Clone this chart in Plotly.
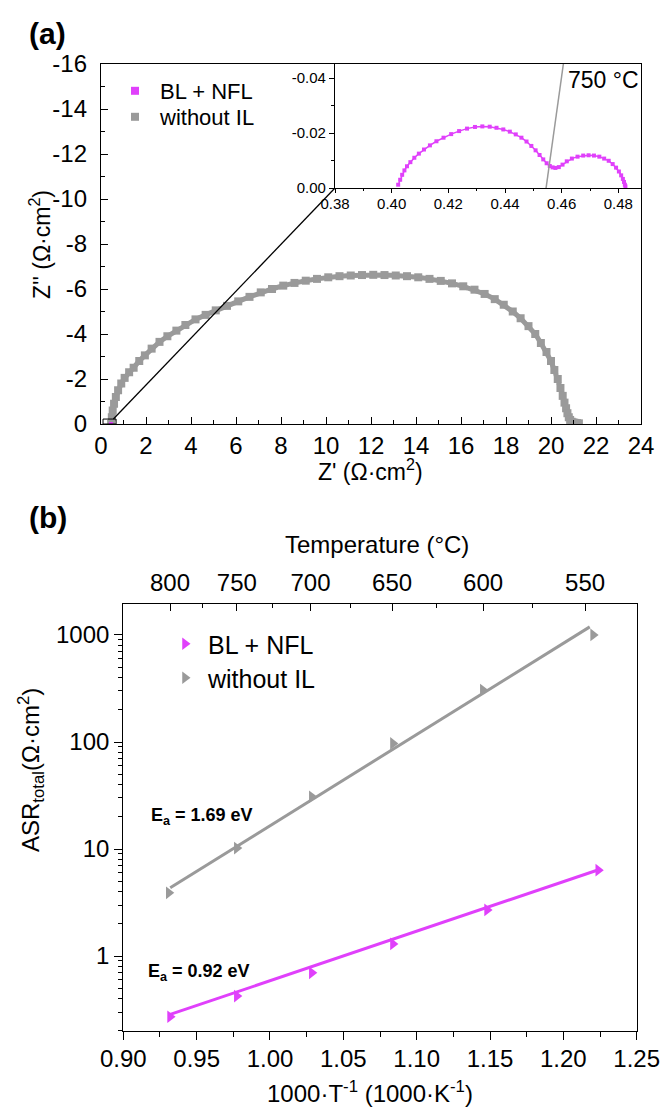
import plotly.graph_objects as go

W, H = 664, 1115
FONT = "Liberation Sans, Arial, sans-serif"
GRAY = "#9a9a9a"
MAG = "#e040fb"

# ---------------- Panel (a) data : Nyquist, 750 C ----------------
without_il_zre = [0.45, 0.48, 0.52, 0.58, 0.66, 0.76, 0.9, 1.05, 1.25, 1.45, 1.7, 1.95,
                  2.25, 2.6, 2.95, 3.35, 3.75, 4.2, 4.65, 5.1, 5.6, 6.1, 6.6, 7.1, 7.6,
                  8.1, 8.6, 9.1, 9.6, 10.1, 10.6, 11.1, 11.6, 12.1, 12.6, 13.1, 13.6,
                  14.1, 14.6, 15.1, 15.6, 16.1, 16.6, 17.05, 17.5, 17.9, 18.3, 18.65,
                  19.0, 19.3, 19.55, 19.8, 20.0, 20.15, 20.3, 20.42, 20.52, 20.6, 20.67,
                  20.73, 20.79, 20.85, 20.92, 21.0, 21.08, 21.16, 21.24]
without_il_zim = [0.0, -0.3, -0.6, -0.9, -1.2, -1.5, -1.8, -2.05, -2.3, -2.5, -2.8, -3.05,
                  -3.35, -3.65, -3.9, -4.15, -4.4, -4.65, -4.85, -5.05, -5.25, -5.45,
                  -5.65, -5.85, -6.0, -6.15, -6.27, -6.37, -6.45, -6.52, -6.57, -6.6,
                  -6.62, -6.63, -6.62, -6.6, -6.57, -6.52, -6.45, -6.36, -6.25, -6.12,
                  -5.97, -5.78, -5.55, -5.3, -5.0, -4.7, -4.35, -4.0, -3.6, -3.2, -2.8,
                  -2.4, -2.0, -1.6, -1.25, -0.95, -0.7, -0.48, -0.3, -0.18, -0.1, -0.07,
                  -0.05, -0.04, -0.03]

bl_nfl_zre = [0.4023, 0.4030, 0.4037, 0.4045, 0.4054, 0.4066, 0.4080, 0.4096, 0.4114,
              0.4135, 0.4158, 0.4183, 0.4210, 0.4238, 0.4266, 0.4294, 0.4320, 0.4346,
              0.4370, 0.4394, 0.4417, 0.4438, 0.4458, 0.4476, 0.4493, 0.4508, 0.4522,
              0.4535, 0.4547, 0.4558, 0.4568, 0.4578, 0.4590, 0.4603, 0.4618, 0.4636,
              0.4656, 0.4676, 0.4695, 0.4714, 0.4733, 0.4750, 0.4766, 0.4780, 0.4792,
              0.4802, 0.4810, 0.4816, 0.4820, 0.4823, 0.4825]
bl_nfl_zim = [-0.0012, -0.0030, -0.0048, -0.0064, -0.0079, -0.0094, -0.0110, -0.0125,
              -0.0140, -0.0155, -0.0170, -0.0183, -0.0196, -0.0207, -0.0216, -0.0222,
              -0.0224, -0.0223, -0.0219, -0.0213, -0.0205, -0.0195, -0.0183, -0.0169,
              -0.0153, -0.0137, -0.0120, -0.0104, -0.0090, -0.0080, -0.0075, -0.0073,
              -0.0076, -0.0085, -0.0097, -0.0107, -0.0114, -0.0118, -0.0119, -0.0118,
              -0.0114, -0.0107, -0.0099, -0.0087, -0.0074, -0.0060, -0.0046, -0.0033,
              -0.0022, -0.0012, -0.0006]

a_xticks = [0, 2, 4, 6, 8, 10, 12, 14, 16, 18, 20, 22, 24]
a_yticks = [0, -2, -4, -6, -8, -10, -12, -14, -16]
inset_yticks = [0.0, -0.02, -0.04]
inset_ylabels = ["0.00", "-0.02", "-0.04"]

# ---------------- Panel (b) data : Arrhenius ----------------
temps_c = [800, 750, 700, 650, 600, 550]
minor_temps_c = [775, 725, 675, 625, 575]
inv_t_without = [0.9310, 0.9774, 1.0285, 1.0838, 1.1451, 1.2203]
asr_without = [3.9, 10.2, 30.8, 97, 306, 1000]
inv_t_bl = [0.9319, 0.9774, 1.0285, 1.0838, 1.1480, 1.2238]
asr_bl = [0.271, 0.423, 0.698, 1.30, 2.70, 6.35]
fit_without_x = [0.932, 1.218]
fit_without_y = [4.35, 1190]
fit_bl_x = [0.932, 1.224]
fit_bl_y = [0.285, 6.4]
b_xticks = [0.90, 0.95, 1.00, 1.05, 1.10, 1.15, 1.20, 1.25]
b_yticks = [1, 10, 100, 1000]


def px(x):
    return x / W


def py(y):
    return 1 - y / H


# domains (pixel boxes)
A = dict(l=101, r=641, t=64, b=424)
INS = dict(l=335, r=641, t=64, b=188)
B = dict(l=123.3, r=636.7, t=603.5, b=1031)

a_xrange = [0, 24]
a_yrange = [0, -16]
ins_xrange = [0.38, 0.488]
ins_yrange = [0, -0.0451]

fig = go.Figure()

# panel a main
fig.add_trace(go.Scatter(x=without_il_zre, y=without_il_zim, mode="lines+markers",
                         line=dict(color=GRAY, width=5),
                         marker=dict(symbol="square", size=8, color=GRAY),
                         showlegend=False, xaxis="x", yaxis="y"))
fig.add_trace(go.Scatter(x=bl_nfl_zre, y=bl_nfl_zim, mode="lines+markers",
                         line=dict(color=MAG, width=1),
                         marker=dict(symbol="square", size=2, color=MAG),
                         showlegend=False, xaxis="x", yaxis="y"))
# legend entries (a)
fig.add_trace(go.Scatter(x=[None], y=[None], mode="markers", name="BL + NFL",
                         marker=dict(symbol="square", size=8, color=MAG),
                         legend="legend", xaxis="x", yaxis="y"))
fig.add_trace(go.Scatter(x=[None], y=[None], mode="markers", name="without IL",
                         marker=dict(symbol="square", size=8, color=GRAY),
                         legend="legend3", xaxis="x", yaxis="y"))
# inset
fig.add_trace(go.Scatter(x=bl_nfl_zre, y=bl_nfl_zim, mode="lines+markers",
                         line=dict(color=MAG, width=1.5),
                         marker=dict(symbol="square", size=4, color=MAG),
                         showlegend=False, xaxis="x2", yaxis="y2"))

# panel b
fig.add_trace(go.Scatter(x=fit_without_x, y=fit_without_y, mode="lines",
                         line=dict(color=GRAY, width=3), showlegend=False,
                         xaxis="x3", yaxis="y3"))
fig.add_trace(go.Scatter(x=fit_bl_x, y=fit_bl_y, mode="lines",
                         line=dict(color=MAG, width=3), showlegend=False,
                         xaxis="x3", yaxis="y3"))
fig.add_trace(go.Scatter(x=inv_t_bl, y=asr_bl, mode="markers", name="BL + NFL",
                         marker=dict(symbol="triangle-right", size=11, color=MAG),
                         legend="legend2", xaxis="x3", yaxis="y3"))
fig.add_trace(go.Scatter(x=inv_t_without, y=asr_without, mode="markers", name="without IL",
                         marker=dict(symbol="triangle-right", size=11, color=GRAY),
                         legend="legend4", xaxis="x3", yaxis="y3"))
# invisible trace to activate top axis
fig.add_trace(go.Scatter(x=[None], y=[None], mode="markers", showlegend=False,
                         xaxis="x4", yaxis="y3"))

axis_common = dict(showline=True, linecolor="black", linewidth=1.3, showgrid=False,
                   zeroline=False, tickcolor="black", automargin=False,
                   tickfont=dict(size=24, color="black"))
inset_common = dict(showline=True, linecolor="black", linewidth=1.3, showgrid=False,
                    zeroline=False, tickcolor="black", automargin=False, mirror=True,
                    tickfont=dict(size=15, color="black"))

top_vals = [1000.0 / (t + 273.15) for t in temps_c]
top_minor = [1000.0 / (t + 273.15) for t in minor_temps_c]
log_minor = [m * 10 ** e for e in range(-1, 4) for m in range(2, 10)]


def leg(xpix, ytop, size, iw):
    return dict(x=px(xpix), y=py(ytop), xanchor="left", yanchor="top",
                bgcolor="rgba(0,0,0,0)", font=dict(size=size, family=FONT),
                tracegroupgap=0, itemwidth=iw)


fig.update_layout(
    width=W, height=H, margin=dict(l=0, r=0, t=0, b=0, autoexpand=False),
    paper_bgcolor="white", plot_bgcolor="rgba(0,0,0,0)",
    font=dict(family=FONT, color="black"),
    xaxis=dict(domain=[px(A["l"]), px(A["r"])], anchor="y", range=a_xrange,
               tickmode="array", tickvals=a_xticks, ticks="inside", ticklen=7,
               minor=dict(dtick=1, tick0=0, ticks="inside", ticklen=4, tickcolor="black"),
               mirror=True, ticklabelstandoff=0, **axis_common),
    yaxis=dict(domain=[py(A["b"]), py(A["t"])], anchor="x", range=a_yrange,
               tickmode="array", tickvals=a_yticks, ticktext=[str(v) for v in a_yticks],
               ticks="inside", ticklen=7,
               minor=dict(dtick=1, tick0=0, ticks="inside", ticklen=4, tickcolor="black"),
               mirror=True, ticklabelstandoff=8, **axis_common),
    xaxis2=dict(domain=[px(INS["l"]), px(INS["r"])], anchor="y2", range=ins_xrange,
                tickmode="linear", tick0=0.38, dtick=0.02, tickformat=".2f",
                ticks="outside", ticklen=4, ticklabelstandoff=-2,
                minor=dict(dtick=0.01, tick0=0.38, ticks="outside", ticklen=2, tickcolor="black"),
                **inset_common),
    yaxis2=dict(domain=[py(INS["b"]), py(INS["t"])], anchor="x2", range=ins_yrange,
                tickmode="array", tickvals=inset_yticks, ticktext=inset_ylabels,
                ticks="outside", ticklen=5,
                minor=dict(tickmode="array", tickvals=[-0.01, -0.03], ticks="outside",
                           ticklen=3, tickcolor="black"),
                **inset_common),
    xaxis3=dict(domain=[px(B["l"]), px(B["r"])], anchor="y3", range=[0.90, 1.25],
                tickmode="array", tickvals=b_xticks, ticktext=[f"{v:.2f}" for v in b_xticks],
                ticks="outside", ticklen=8, ticklabelstandoff=-2,
                minor=dict(dtick=0.025, tick0=0.9, ticks="outside", ticklen=5, tickcolor="black"),
                mirror=False, **axis_common),
    xaxis4=dict(domain=[px(B["l"]), px(B["r"])], anchor="y3", overlaying="x3", side="top",
                range=[0.90, 1.25], tickmode="array", tickvals=top_vals,
                ticktext=[str(t) for t in temps_c], ticks="inside", ticklen=7,
                minor=dict(tickmode="array", tickvals=top_minor, ticks="inside",
                           ticklen=4, tickcolor="black"),
                ticklabelstandoff=2, **axis_common),
    yaxis3=dict(domain=[py(B["b"]), py(B["t"])], anchor="x3", type="log",
                range=[-0.70, 3.294], tickmode="array", tickvals=b_yticks,
                ticktext=[str(v) for v in b_yticks], ticks="outside", ticklen=8,
                minor=dict(tickmode="array", tickvals=log_minor, ticks="outside",
                           ticklen=4, tickcolor="black"),
                mirror=True, **axis_common),
    legend=leg(110, 70, 22, 40),
    legend3=leg(110, 96, 22, 40),
    legend2=leg(162, 621, 25, 36),
    legend4=leg(162, 655, 25, 36),
)

# zoom rectangle and connector in panel a
fig.add_shape(type="rect", xref="x", yref="y", x0=0.09, x1=0.67, y0=0, y1=-0.22,
              line=dict(color="black", width=1))
conn_x1 = a_xrange[0] + (INS["l"] - A["l"]) / (A["r"] - A["l"]) * (a_xrange[1] - a_xrange[0])
conn_y1 = a_yrange[0] + (A["b"] - INS["b"]) / (A["b"] - A["t"]) * (a_yrange[1] - a_yrange[0])
fig.add_shape(type="line", xref="x", yref="y", x0=0.55, y0=-0.22, x1=conn_x1, y1=conn_y1,
              line=dict(color="black", width=1.3))
# pointer line in inset
fig.add_shape(type="line", xref="x2", yref="y2", x0=0.4545, y0=0, x1=0.4606, y1=-0.0451,
              line=dict(color=GRAY, width=1.5))

ann = [
    dict(text="<b>(a)</b>", x=px(27), y=py(33), xanchor="left", yanchor="middle", size=30),
    dict(text="<b>(b)</b>", x=px(27), y=py(517), xanchor="left", yanchor="middle", size=30),
    dict(text="750 °C", x=px(641), y=py(80), xanchor="right", yanchor="middle", size=23),
    dict(text="Z' (Ω·cm<sup>2</sup>)", x=px(371), y=py(470), xanchor="center", yanchor="middle", size=23),
    dict(text="Temperature (°C)", x=px(377), y=py(544), xanchor="center", yanchor="middle", size=24),
    dict(text="1000·T<sup>-1</sup> (1000·K<sup>-1</sup>)", x=px(370), y=py(1092),
         xanchor="center", yanchor="middle", size=24),
    dict(text="<b>E<sub>a</sub> = 1.69 eV</b>", x=px(149), y=py(816), xanchor="left", yanchor="middle", size=18),
    dict(text="<b>E<sub>a</sub> = 0.92 eV</b>", x=px(146), y=py(972), xanchor="left", yanchor="middle", size=18),
]
for a in ann:
    fig.add_annotation(text=a["text"], x=a["x"], y=a["y"], xref="paper", yref="paper",
                       xanchor=a["xanchor"], yanchor=a["yanchor"], showarrow=False,
                       font=dict(size=a["size"], family=FONT, color="black"))

fig.add_annotation(text="Z'' (Ω·cm<sup>2</sup>)", x=px(40), y=py(245), xref="paper", yref="paper",
                   textangle=-90, showarrow=False, xanchor="center", yanchor="middle",
                   font=dict(size=23, family=FONT, color="black"))
fig.add_annotation(text="ASR<sub>total</sub>(Ω·cm<sup>2</sup>)", x=px(31), y=py(770),
                   xref="paper", yref="paper", textangle=-90, showarrow=False,
                   xanchor="center", yanchor="middle",
                   font=dict(size=24, family=FONT, color="black"))

fig.write_html("out.html")
